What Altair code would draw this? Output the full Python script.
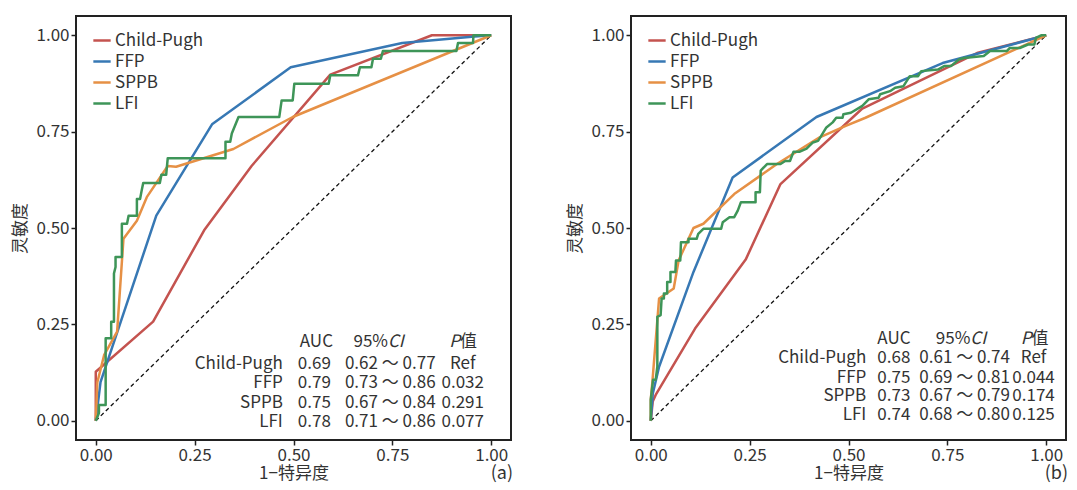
import altair as alt
import pandas as pd

FONT = "Noto Sans CJK SC"
SERIES = ["Child-Pugh", "FFP", "SPPB", "LFI"]
COLORS = ["#C4534F", "#3778B4", "#E69045", "#3E9558"]

# ---------------- panel (a) curves ----------------
a_cp_x = [0, 0, 0.145, 0.274, 0.394, 0.593, 0.85, 1.0]
a_cp_y = [0, 0.127, 0.257, 0.494, 0.661, 0.898, 1.0, 1.0]
a_ffp_x = [0, 0.012, 0.153, 0.294, 0.493, 0.775, 0.958, 1.0]
a_ffp_y = [0, 0.10, 0.532, 0.769, 0.917, 0.980, 0.997, 1.0]
a_sppb_x = [0, 0.004, 0.021, 0.054, 0.070, 0.104, 0.129, 0.182, 0.203, 0.348, 0.498, 1.0]
a_sppb_y = [0, 0.10, 0.17, 0.231, 0.472, 0.519, 0.580, 0.661, 0.659, 0.705, 0.788, 1.0]
a_lfi_x = [0, 0.008, 0.008, 0.025, 0.025, 0.039, 0.039, 0.046, 0.046, 0.050, 0.050, 0.066,
           0.066, 0.079, 0.083, 0.104, 0.104, 0.112, 0.116, 0.120, 0.162, 0.166, 0.178, 0.182,
           0.328, 0.328, 0.340, 0.344, 0.361, 0.464, 0.470, 0.498, 0.502, 0.589, 0.593, 0.663,
           0.668, 0.697, 0.701, 0.721, 0.726, 0.912, 0.916, 0.954, 0.955, 1.0]
a_lfi_y = [0, 0.02, 0.041, 0.041, 0.214, 0.214, 0.257, 0.257, 0.382, 0.399, 0.425, 0.425,
           0.511, 0.511, 0.532, 0.532, 0.575, 0.575, 0.597, 0.617, 0.617, 0.638, 0.638, 0.681,
           0.681, 0.724, 0.724, 0.745, 0.788, 0.788, 0.831, 0.831, 0.874, 0.874, 0.896, 0.896,
           0.917, 0.917, 0.939, 0.939, 0.959, 0.959, 0.980, 0.980, 1.0, 1.0]

# ---------------- panel (b) curves ----------------
b_cp_x = [0, 0.005, 0.0124, 0.112, 0.240, 0.328, 0.535, 0.825, 1.0]
b_cp_y = [0, 0.05, 0.067, 0.239, 0.418, 0.614, 0.810, 0.954, 1.0]
b_ffp_x = [0, 0.005, 0.021, 0.108, 0.207, 0.419, 0.738, 1.0]
b_ffp_y = [0, 0.07, 0.14, 0.386, 0.631, 0.788, 0.928, 1.0]
b_sppb_x = [0, 0, 0.004, 0.021, 0.058, 0.0705, 0.108, 0.133, 0.211, 0.319, 0.427, 0.493, 0.543, 1.0]
b_sppb_y = [0, 0.055, 0.10, 0.317, 0.343, 0.416, 0.50, 0.511, 0.588, 0.666, 0.735, 0.765, 0.786, 1.0]
b_lfi_x = [0, 0, 0.0058, 0.0124, 0.0166, 0.0166, 0.0249, 0.0274, 0.0332, 0.0332, 0.0415, 0.0415,
           0.0498, 0.0498, 0.0622, 0.0638, 0.0746, 0.0763, 0.0954, 0.0954, 0.116, 0.120, 0.133,
           0.178, 0.182, 0.199, 0.211, 0.220, 0.228, 0.265, 0.265, 0.276, 0.278, 0.294, 0.328,
           0.340, 0.352, 0.361, 0.377, 0.394, 0.410, 0.423, 0.431, 0.444, 0.460, 0.469, 0.485,
           0.487, 0.506, 0.535, 0.551, 0.576, 0.580, 0.605, 0.618, 0.639, 0.655, 0.676, 0.684,
           0.726, 0.742, 0.759, 0.779, 0.792, 0.842, 0.858, 0.900, 0.908, 0.933, 0.954, 0.970,
           0.974, 0.987, 1.0]
b_lfi_y = [0, 0.0545, 0.106, 0.106, 0.140, 0.2695, 0.274, 0.317, 0.317, 0.330, 0.330, 0.360,
           0.360, 0.386, 0.386, 0.416, 0.416, 0.463, 0.463, 0.472, 0.472, 0.485, 0.498,
           0.498, 0.515, 0.528, 0.528, 0.545, 0.567, 0.567, 0.593, 0.593, 0.649, 0.666, 0.666,
           0.674, 0.674, 0.698, 0.698, 0.706, 0.722, 0.726, 0.739, 0.761, 0.774, 0.786, 0.786,
           0.795, 0.799, 0.817, 0.834, 0.838, 0.847, 0.855, 0.864, 0.868, 0.894, 0.894, 0.907,
           0.911, 0.920, 0.920, 0.937, 0.941, 0.946, 0.959, 0.959, 0.967, 0.967, 0.976, 0.976,
           0.993, 1.0, 1.0]

# ---------------- tables ----------------
a_auc = ["0.69", "0.79", "0.75", "0.78"]
a_ci = ["0.62 ～ 0.77", "0.73 ～ 0.86", "0.67 ～ 0.84", "0.71 ～ 0.86"]
a_p = ["Ref", "0.032", "0.291", "0.077"]
b_auc = ["0.68", "0.75", "0.73", "0.74"]
b_ci = ["0.61 ～ 0.74", "0.69 ～ 0.81", "0.67 ～ 0.79", "0.68 ～ 0.80"]
b_p = ["Ref", "0.044", "0.174", "0.125"]

ticks = [0, 0.25, 0.5, 0.75, 1.0]
W, H = 435, 424
FS = 17
TXT = "#333333"

# table layout (data units)
LAYOUT_A = dict(hdr_y=0.203, rows_y=[0.146, 0.097, 0.045, -0.004], name_x=0.473, auc_x=0.511,
                ci_x=0.630, p_x=0.928, auc_hdr_x=0.516, ci_split=0.739, p_split=0.921)
LAYOUT_B = dict(hdr_y=0.213, rows_y=[0.164, 0.112, 0.063, 0.014], name_x=0.545, auc_x=0.573,
                ci_x=0.679, p_x=0.968, auc_hdr_x=0.573, ci_split=0.808, p_split=0.963)


def curves_df(curves):
    rows = []
    for name, (xs, ys) in zip(SERIES, curves):
        for i, (x, y) in enumerate(zip(xs, ys)):
            rows.append({"series": name, "x": x, "y": y, "i": i})
    return pd.DataFrame(rows)


xscale = alt.Scale(domain=[-0.05, 1.05], nice=False, zero=False)
yscale = alt.Scale(domain=[-0.05, 1.05], nice=False, zero=False)


def text_layer(df, align, italic=False):
    return alt.Chart(df).mark_text(
        align=align, baseline="middle", font=FONT, fontSize=FS, color=TXT,
        fontStyle="italic" if italic else "normal",
    ).encode(
        x=alt.X("x:Q", scale=xscale),
        y=alt.Y("y:Q", scale=yscale),
        text="t:N",
    )


def panel(curves, auc, ci, p, L, letter):
    df = curves_df(curves)
    lines = alt.Chart(df).mark_line(strokeWidth=2.5, strokeJoin="round").encode(
        x=alt.X("x:Q", scale=xscale,
                axis=alt.Axis(values=ticks, format=".2f", title="1−特异度")),
        y=alt.Y("y:Q", scale=yscale,
                axis=alt.Axis(values=ticks, format=".2f", title="灵敏度")),
        color=alt.Color("series:N", scale=alt.Scale(domain=SERIES, range=COLORS),
                        legend=alt.Legend(title=None, orient="none", legendX=16, legendY=14.5)),
        order="i:Q",
    )
    diag = alt.Chart(pd.DataFrame({"x": [0, 1], "y": [0, 1]})).mark_line(
        color="#111111", strokeWidth=1.3, strokeDash=[4, 3]
    ).encode(x=alt.X("x:Q", scale=xscale), y=alt.Y("y:Q", scale=yscale))

    ry = L["rows_y"]
    names = text_layer(pd.DataFrame({"x": [L["name_x"]] * 4, "y": ry, "t": SERIES}), "right")
    aucs = text_layer(pd.DataFrame({"x": [L["auc_x"]] * 4, "y": ry, "t": auc}), "left")
    cis = text_layer(pd.DataFrame({"x": [L["ci_x"]] * 4, "y": ry, "t": ci}), "left")
    ps = text_layer(pd.DataFrame({"x": [L["p_x"]] * 4, "y": ry, "t": p}), "center")
    h1 = text_layer(pd.DataFrame({"x": [L["auc_hdr_x"]], "y": [L["hdr_y"]], "t": ["AUC"]}), "left")
    h2 = text_layer(pd.DataFrame({"x": [L["ci_split"]], "y": [L["hdr_y"]], "t": ["95%"]}), "right")
    h3 = text_layer(pd.DataFrame({"x": [L["ci_split"]], "y": [L["hdr_y"]], "t": ["CI"]}), "left", italic=True)
    h4 = text_layer(pd.DataFrame({"x": [L["p_split"]], "y": [L["hdr_y"]], "t": ["P"]}), "right", italic=True)
    h5 = text_layer(pd.DataFrame({"x": [L["p_split"]], "y": [L["hdr_y"]], "t": ["值"]}), "left")

    tag = alt.Chart(pd.DataFrame({"t": [letter]})).mark_text(
        font=FONT, fontSize=18, color=TXT, align="right", baseline="middle"
    ).encode(x=alt.value(W + 2), y=alt.value(H + 34), text="t:N")

    return alt.layer(diag, lines, names, aucs, cis, ps, h1, h2, h3, h4, h5, tag).properties(
        width=W, height=H
    )


pa = panel([(a_cp_x, a_cp_y), (a_ffp_x, a_ffp_y), (a_sppb_x, a_sppb_y), (a_lfi_x, a_lfi_y)],
           a_auc, a_ci, a_p, LAYOUT_A, "(a)")
pb = panel([(b_cp_x, b_cp_y), (b_ffp_x, b_ffp_y), (b_sppb_x, b_sppb_y), (b_lfi_x, b_lfi_y)],
           b_auc, b_ci, b_p, LAYOUT_B, "(b)")

chart = alt.hconcat(pa, pb, spacing=51).resolve_scale(color="independent").properties(
    padding={"left": 2, "top": 7, "right": 0, "bottom": 0}
).configure_view(
    stroke="#222222", strokeWidth=2
).configure_axis(
    grid=False, domain=False, tickColor="#222222", tickWidth=1.5, tickSize=5,
    labelFont=FONT, labelFontSize=FS, labelColor=TXT, labelPadding=2,
    titleFont=FONT, titleFontSize=FS, titleColor=TXT, titleFontWeight="normal",
).configure_axisY(titlePadding=6).configure_axisX(titlePadding=2).configure_legend(
    symbolType="stroke", symbolStrokeWidth=2.5, symbolSize=300, labelFont=FONT,
    labelFontSize=FS, labelColor=TXT, labelOffset=3, rowPadding=3, padding=0,
)

chart.save("out.html", embed_options={"renderer": "svg", "actions": False})
